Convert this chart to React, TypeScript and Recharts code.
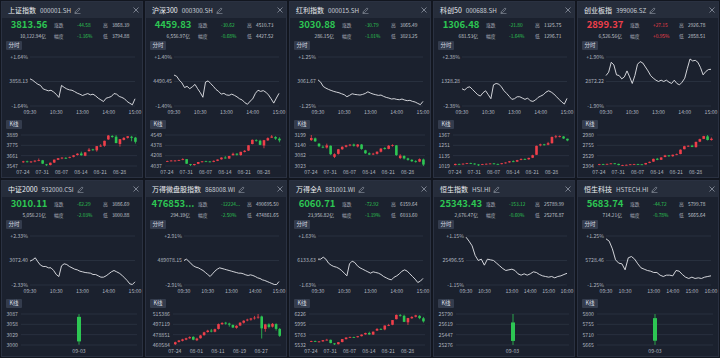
import React from 'react';
import { LineChart, Line, XAxis, YAxis, CartesianGrid, ComposedChart, Bar } from 'recharts';

const RED = '#ee3f4a';
const GREEN = '#2dc653';
const GRID = '#323a4a';
const AXIS_TEXT = '#aeb4bf';
const FONT = '"Noto Sans CJK SC", "Noto Sans", sans-serif';

// intraday minute index (A-share: 240 trading minutes, HK: 330)
const aMinutes = [0, 6, 12, 18, 24, 30, 36, 42, 48, 54, 60, 66, 72, 78, 84, 90, 96, 102, 108, 114, 120, 126, 132, 138, 144, 150, 156, 162, 168, 174, 180, 186, 192, 198, 204, 210, 216, 222, 228, 234, 240];
const hkMinutes = [0, 10, 20, 30, 40, 50, 60, 70, 80, 90, 100, 110, 120, 130, 140, 150, 160, 170, 180, 190, 200, 210, 220, 230, 240, 250, 260, 270, 280, 290, 300, 310, 320, 330];
const aTicks = [0, 60, 120, 180, 240];
const aTickLabels = ['09:30', '10:30', '13:00', '14:00', '15:00'];
const hkTicks = [0, 60, 150, 210, 270, 330];
const hkTickLabels = ['09:30', '10:30', '13:00', '14:00', '15:00', '16:00'];

const kDates = ['07-24', '07-25', '07-28', '07-29', '07-30', '07-31', '08-01', '08-04', '08-05', '08-06', '08-07', '08-08', '08-11', '08-12', '08-13', '08-14', '08-15', '08-18', '08-19', '08-20', '08-21', '08-22', '08-25', '08-26', '08-27', '08-28', '08-29', '09-01', '09-02', '09-03'];
const kTicksWeekly = ['07-24', '07-31', '08-07', '08-14', '08-21', '08-28'];
const kTicksMicro = ['07-24', '08-01', '08-11', '08-19', '08-27'];
const oneDay = ['09-03'];

// intraday values
const shLine = [3865, 3861.5, 3856, 3851, 3848, 3839, 3836.5, 3834, 3835.5, 3831, 3825, 3817, 3848, 3843, 3839, 3836.5, 3835.5, 3832, 3828, 3825.4, 3822, 3824.5, 3827, 3823.7, 3825.4, 3821, 3815, 3810.7, 3806.4, 3815, 3817, 3819.5, 3827, 3825.4, 3819.5, 3817, 3813.5, 3806.4, 3802, 3798, 3813.5];
const hs300Line = [4507, 4504, 4494, 4487, 4475, 4478, 4472, 4477, 4483, 4472, 4462, 4450, 4489, 4492, 4485, 4478, 4470, 4465, 4458, 4460, 4456, 4455, 4458, 4455, 4451, 4446, 4443, 4436, 4432, 4440, 4446, 4460, 4468, 4465, 4467, 4463, 4456, 4446, 4435, 4448, 4460];
const divLine = [3064.3, 3060.6, 3053.9, 3051.3, 3049.3, 3047.7, 3046.2, 3045.1, 3044.1, 3042.5, 3041, 3037.9, 3040, 3042.5, 3041.5, 3041, 3040.5, 3041.5, 3043, 3045.6, 3043.6, 3042, 3041, 3040, 3040.5, 3038.4, 3036.8, 3035.8, 3034.3, 3034.8, 3033.7, 3033.2, 3034.3, 3032.7, 3031.7, 3032.2, 3030.6, 3029.6, 3027.5, 3025.5, 3030.6];
const kc50Line = [1318.9, 1317.2, 1320.6, 1321.4, 1318, 1314.6, 1311.2, 1309.5, 1313.8, 1316.3, 1311.2, 1306.1, 1324, 1325.7, 1324.9, 1321.4, 1316.3, 1312.9, 1309.1, 1305.2, 1306.1, 1308.6, 1308.6, 1306.9, 1305.2, 1306.9, 1303.5, 1302.6, 1304.4, 1307.8, 1309.5, 1311.2, 1314.6, 1316.3, 1314.6, 1312.1, 1308.6, 1305.2, 1301.8, 1299.2, 1306.5];
const cybLine = [2885.5, 2892.9, 2915, 2909.1, 2887, 2885.5, 2878.1, 2882.5, 2895.8, 2882.5, 2867.8, 2885.5, 2910.6, 2916.5, 2913.5, 2904.7, 2895.8, 2885.5, 2879.6, 2875.2, 2872.2, 2875.2, 2872.2, 2875.2, 2870.7, 2867.8, 2875.2, 2867.8, 2864.8, 2870.7, 2879.6, 2901.7, 2922.4, 2918, 2919.4, 2915, 2903.2, 2887, 2894.4, 2898.8, 2899.4];
const zz2000Line = [3070.5, 3074.3, 3080.2, 3068.5, 3058.8, 3054.9, 3054.9, 3051, 3051, 3043.2, 3031.5, 3025.6, 3056.8, 3062.7, 3060.7, 3054.9, 3051, 3047.1, 3045.1, 3041.2, 3039.3, 3037.3, 3036.4, 3035.4, 3031.5, 3031.5, 3027.6, 3023.7, 3023.7, 3027.6, 3033.4, 3039.3, 3043.2, 3039.3, 3035.4, 3029.5, 3021.8, 3014, 3004.2, 3002.3, 3010.1];
const microLine = [489078, 489852, 488691, 487142, 485980, 485206, 484819, 484044, 483270, 482108, 480947, 479785, 481334, 482883, 484044, 484819, 484432, 484044, 483657, 483270, 482883, 482496, 482108, 481721, 481721, 481334, 480753, 480366, 480753, 480366, 479785, 479011, 478624, 477849, 477462, 476881, 476300, 475720, 475139, 475139, 476853];
const windALine = [6139.1, 6139.1, 6147.2, 6139.1, 6122.8, 6114.6, 6109.2, 6106.4, 6101, 6092.8, 6082, 6071, 6120, 6130.9, 6125.5, 6111.9, 6103.7, 6098.3, 6092.8, 6087.4, 6082, 6087.4, 6084.7, 6082, 6076.5, 6068.3, 6062.9, 6057.5, 6054.8, 6065.6, 6071, 6079.2, 6090.1, 6095.5, 6090.1, 6079.2, 6068.3, 6057.5, 6043.9, 6049.3, 6060.7];
const hsiLine = [25775.8, 25727.9, 25672.1, 25556.4, 25496.6, 25512.5, 25440.7, 25512.5, 25504.5, 25496.6, 25464.6, 25432.7, 25400.8, 25376.9, 25384.9, 25392.8, 25376.9, 25337, 25321, 25337, 25321, 25337, 25360.9, 25352.9, 25329, 25313, 25305, 25297.1, 25305, 25289.1, 25305, 25313, 25329, 25343.4];
const hstechLine = [5791.8, 5785, 5762.6, 5730.4, 5720.7, 5718.7, 5701.2, 5736.3, 5740.1, 5732.4, 5718.7, 5707, 5703.1, 5699.2, 5697.3, 5693.4, 5693.4, 5685.6, 5681.7, 5685.6, 5685.6, 5683.6, 5699.2, 5697.3, 5687.5, 5679.8, 5675.9, 5679.8, 5675.9, 5677.8, 5675.9, 5679.8, 5681.7, 5683.7];

// daily candles: [open, close, high, low]
const shCandles = [
  [3588, 3598, 3604, 3582], [3598, 3592, 3606, 3586], [3590, 3597, 3600, 3580], [3596, 3606, 3610, 3588], [3608, 3612, 3630, 3600],
  [3610, 3573, 3614, 3568], [3565, 3560, 3570, 3547], [3558, 3583, 3585, 3553], [3585, 3617, 3618, 3580], [3615, 3633, 3634, 3612],
  [3634, 3639, 3645, 3622], [3637, 3635, 3645, 3625], [3640, 3647, 3650, 3632], [3648, 3665, 3669, 3642], [3668, 3683, 3688, 3662],
  [3685, 3666, 3705, 3660], [3660, 3697, 3700, 3655], [3712, 3728, 3745, 3705], [3730, 3727, 3737, 3715], [3720, 3766, 3767, 3705],
  [3765, 3771, 3787, 3758], [3770, 3825, 3826, 3760], [3840, 3883, 3889, 3835], [3878, 3868, 3888, 3858], [3870, 3800, 3887, 3798],
  [3790, 3843, 3845, 3761], [3835, 3857, 3866, 3830], [3858, 3875, 3878, 3850], [3870, 3858, 3880, 3820], [3860, 3814, 3868, 3795],
];
const hs300Candles = [
  [4110, 4119, 4125, 4105], [4122, 4127, 4135, 4115], [4125, 4128, 4132, 4112], [4128, 4136, 4140, 4120], [4138, 4151, 4165, 4132],
  [4150, 4075, 4152, 4070], [4068, 4054, 4072, 4037], [4052, 4070, 4072, 4045], [4072, 4103, 4104, 4068], [4100, 4114, 4116, 4096],
  [4115, 4113, 4124, 4104], [4112, 4104, 4118, 4098], [4106, 4122, 4130, 4100], [4122, 4144, 4146, 4118], [4148, 4176, 4180, 4142],
  [4176, 4163, 4200, 4158], [4160, 4202, 4205, 4155], [4215, 4239, 4258, 4210], [4240, 4223, 4248, 4208], [4218, 4271, 4272, 4205],
  [4270, 4288, 4300, 4262], [4292, 4379, 4380, 4285], [4400, 4469, 4475, 4395], [4462, 4452, 4480, 4440], [4455, 4386, 4470, 4380],
  [4375, 4463, 4468, 4330], [4460, 4497, 4510, 4452], [4505, 4524, 4549, 4500], [4515, 4490, 4530, 4470], [4488, 4460, 4511, 4428],
];
const divCandles = [
  [3170, 3182, 3199, 3165], [3180, 3163, 3185, 3160], [3150, 3135, 3152, 3130], [3132, 3128, 3140, 3124], [3128, 3140, 3150, 3122],
  [3138, 3090, 3140, 3085], [3075, 3090, 3095, 3068], [3092, 3118, 3120, 3088], [3118, 3132, 3135, 3115], [3132, 3140, 3143, 3128],
  [3140, 3144, 3148, 3135], [3145, 3138, 3150, 3133], [3134, 3145, 3148, 3128], [3145, 3120, 3148, 3115], [3112, 3095, 3115, 3092],
  [3095, 3088, 3100, 3085], [3090, 3093, 3098, 3085], [3092, 3104, 3106, 3088], [3104, 3122, 3124, 3100], [3125, 3120, 3130, 3116],
  [3120, 3138, 3142, 3118], [3138, 3142, 3146, 3133], [3140, 3085, 3142, 3080], [3068, 3082, 3090, 3062], [3080, 3066, 3084, 3060],
  [3066, 3058, 3070, 3053], [3058, 3050, 3062, 3046], [3050, 3048, 3056, 3042], [3048, 3062, 3066, 3045], [3060, 3031, 3065, 3023],
];
const kc50Candles = [
  [1030, 1042, 1046, 1026], [1042, 1040, 1045, 1035], [1040, 1045, 1048, 1036], [1045, 1052, 1054, 1040], [1050, 1046, 1056, 1042],
  [1046, 1038, 1050, 1034], [1036, 1033, 1040, 1019], [1033, 1040, 1043, 1030], [1040, 1044, 1047, 1035], [1044, 1047, 1050, 1040],
  [1048, 1042, 1052, 1038], [1042, 1040, 1046, 1036], [1040, 1050, 1053, 1038], [1050, 1058, 1060, 1046], [1060, 1072, 1075, 1056],
  [1072, 1068, 1082, 1062], [1068, 1085, 1088, 1065], [1088, 1098, 1104, 1084], [1098, 1095, 1104, 1088], [1094, 1110, 1112, 1090],
  [1112, 1140, 1146, 1108], [1145, 1245, 1248, 1142], [1250, 1262, 1270, 1240], [1262, 1256, 1268, 1248], [1258, 1275, 1290, 1252],
  [1275, 1345, 1350, 1270], [1345, 1352, 1367, 1330], [1352, 1355, 1362, 1340], [1350, 1328, 1356, 1322], [1325, 1306, 1326, 1297],
];
const cybCandles = [
  [2330, 2345, 2350, 2322], [2345, 2340, 2352, 2332], [2338, 2350, 2355, 2334], [2350, 2360, 2365, 2345], [2362, 2350, 2368, 2342],
  [2350, 2325, 2355, 2318], [2320, 2322, 2330, 2304], [2322, 2330, 2335, 2315], [2330, 2340, 2345, 2325], [2340, 2346, 2352, 2335],
  [2346, 2340, 2352, 2332], [2340, 2336, 2346, 2328], [2338, 2370, 2372, 2334], [2372, 2395, 2400, 2365], [2400, 2460, 2465, 2395],
  [2462, 2440, 2480, 2430], [2440, 2490, 2495, 2435], [2500, 2535, 2548, 2495], [2535, 2520, 2540, 2505], [2518, 2550, 2552, 2505],
  [2550, 2560, 2575, 2540], [2565, 2660, 2665, 2560], [2670, 2735, 2745, 2668], [2735, 2745, 2755, 2720], [2748, 2720, 2768, 2715],
  [2715, 2830, 2835, 2705], [2835, 2890, 2900, 2825], [2895, 2956, 2962, 2890], [2950, 2872, 2980, 2860], [2870, 2899, 2927, 2859],
];
const zz2000Candles = [[3079, 3010.11, 3086.69, 3000.88]];
const microCandles = [
  [462000, 465500, 466500, 460584], [466000, 468500, 469500, 465000], [468000, 470500, 471500, 467000], [470000, 472500, 473500, 469000], [472500, 474500, 476000, 471500],
  [475000, 470000, 476000, 469000], [469000, 472000, 473500, 467500], [472500, 477500, 478500, 472000], [478000, 483000, 484000, 477000], [483500, 486000, 487500, 482500],
  [486000, 484500, 489000, 483000], [484000, 488500, 489500, 483000], [489000, 497500, 498500, 488000], [497500, 499500, 501000, 496000], [500000, 498500, 501500, 496500],
  [498500, 496500, 500000, 493000], [496000, 491500, 497000, 490500], [491000, 494500, 495500, 489500], [495000, 500000, 501000, 494000], [500000, 503500, 504500, 498500],
  [504000, 505500, 507000, 502500], [505500, 507500, 508500, 503500], [508000, 509000, 512000, 505500], [509500, 510500, 515386, 507000], [511000, 490000, 512500, 472000],
  [489000, 497000, 498000, 484000], [497000, 492500, 499000, 490000], [493000, 498000, 499500, 491500], [497500, 489078, 499000, 486000], [489000, 476854, 490695, 474862],
];
const windACandles = [
  [5605, 5620, 5628, 5598], [5622, 5605, 5630, 5598], [5600, 5612, 5616, 5590], [5612, 5640, 5644, 5605], [5640, 5650, 5670, 5632],
  [5648, 5575, 5652, 5570], [5568, 5548, 5575, 5532], [5550, 5595, 5598, 5545], [5598, 5665, 5666, 5592], [5662, 5700, 5702, 5658],
  [5702, 5712, 5720, 5690], [5708, 5702, 5718, 5692], [5706, 5728, 5735, 5700], [5730, 5765, 5770, 5724], [5770, 5800, 5808, 5760],
  [5802, 5768, 5830, 5760], [5765, 5830, 5834, 5758], [5855, 5890, 5912, 5848], [5892, 5888, 5905, 5868], [5880, 5968, 5970, 5862],
  [5968, 5980, 6005, 5955], [5985, 6090, 6092, 5975], [6110, 6205, 6215, 6105], [6198, 6180, 6226, 6168], [6185, 6050, 6210, 6045],
  [6040, 6135, 6140, 5980], [6130, 6160, 6178, 6118], [6165, 6195, 6208, 6150], [6185, 6134, 6200, 6110], [6130, 6061, 6160, 6034],
];
const hsiCandles = [[25650, 25343.43, 25789.99, 25276.87]];
const hstechCandles = [[5782, 5683.74, 5799.78, 5665.64]];

// header info
const names = ['上证指数', '沪深300', '红利指数', '科创50', '创业板指', '中证2000', '万得微盘股指数', '万得全A', '恒生指数', '恒生科技'];
const codes = ['000001.SH', '000300.SH', '000015.SH', '000688.SH', '399006.SZ', '932000.CSI', '868008.WI', '881001.WI', 'HSI.HI', 'HSTECH.HI'];
const prices = ['3813.56', '4459.83', '3030.88', '1306.48', '2899.37', '3010.11', '476853...', '6060.71', '25343.43', '5683.74'];
const changes = ['-44.58', '-30.62', '-30.79', '-21.80', '+27.15', '-62.29', '-12224...', '-72.92', '-153.12', '-44.72'];
const pcts = ['-1.16%', '-0.68%', '-1.01%', '-1.64%', '+0.95%', '-2.03%', '-2.50%', '-1.19%', '-0.60%', '-0.78%'];
const highs = ['3868.39', '4510.73', '3065.49', '1325.75', '2926.78', '3086.69', '490695.50', '6159.64', '25789.99', '5799.78'];
const lows = ['3794.88', '4427.52', '3023.25', '1296.71', '2858.51', '3000.88', '474861.65', '6033.60', '25276.87', '5665.64'];
const amounts = ['10,122.94亿', '6,556.97亿', '286.15亿', '681.53亿', '6,526.56亿', '5,056.21亿', '294.39亿', '23,956.82亿', '2,676.47亿', '714.21亿'];
const prevCloses = [3858.13, 4490.45, 3061.67, 1328.28, 2872.22, 3072.4, 489078.15, 6133.63, 25496.55, 5728.46];
const bounds = [1.64, 1.4, 1.25, 2.38, 1.9, 2.33, 2.91, 1.63, 1.15, 1.25];
const kYTicks = [
  [3547, 3661, 3775, 3889], [4037, 4208, 4378, 4549], [3023, 3082, 3140, 3199], [1019, 1135, 1251, 1367], [2304, 2529, 2755, 2980],
  [3000, 3029, 3058, 3087], [460584, 478851, 497119, 515386], [5532, 5763, 5995, 6226], [25276, 25447, 25619, 25790], [5665, 5710, 5755, 5800],
];

const lines = [shLine, hs300Line, divLine, kc50Line, cybLine, zz2000Line, microLine, windALine, hsiLine, hstechLine];
const candles = [shCandles, hs300Candles, divCandles, kc50Candles, cybCandles, zz2000Candles, microCandles, windACandles, hsiCandles, hstechCandles];
const isHK = [false, false, false, false, false, false, false, false, true, true];
const kTickSets = [kTicksWeekly, kTicksWeekly, kTicksWeekly, kTicksWeekly, kTicksWeekly, oneDay, kTicksMicro, kTicksWeekly, oneDay, oneDay];
const lineAxisW = [29, 29, 29, 29, 29, 29, 39, 29, 33, 29];
const kAxisW = [20, 20, 20, 20, 20, 20, 28, 20, 23, 20];

function Candle(props: any) {
  const { x, y, width, height, payload } = props;
  const { open, close, high, low } = payload;
  const top0 = Math.min(y, y + height);
  const h0 = Math.abs(height);
  const span = high - low || 1;
  const py = (v: number) => top0 + ((high - v) / span) * h0;
  const color = close >= open ? RED : GREEN;
  const bTop = py(Math.max(open, close));
  const bBot = py(Math.min(open, close));
  const cx = x + width / 2;
  return (
    <g>
      <line x1={cx} x2={cx} y1={top0} y2={top0 + h0} stroke={color} strokeWidth={0.8} />
      <rect x={x} y={bTop} width={width} height={Math.max(bBot - bTop, 0.8)} fill={color} />
    </g>
  );
}

function Tag({ text, top }: { text: string; top: number }) {
  return (
    <div style={{ position: 'absolute', left: 4, top, width: 16, height: 9, background: '#343c4d', color: '#d8dce3', fontSize: 5.5, lineHeight: '9px', textAlign: 'center', borderRadius: 1 }}>
      {text}
    </div>
  );
}

function Panel({ i }: { i: number }) {
  const hk = isHK[i];
  const mins = hk ? hkMinutes : aMinutes;
  const lineData = lines[i].map((v, k) => ({ m: mins[k], v }));
  const mid = prevCloses[i];
  const b = bounds[i];
  const lo = mid * (1 - b / 100);
  const hi = mid * (1 + b / 100);
  const xTicks = hk ? hkTicks : aTicks;
  const xLabels = hk ? hkTickLabels : aTickLabels;
  const kData = candles[i].map((c, k) => {
    const date = candles[i].length === 1 ? oneDay[0] : kDates[k];
    return { date, open: c[0], close: c[1], high: c[2], low: c[3], range: [c[3], c[2]] };
  });
  const ky = kYTicks[i];
  const priceColor = changes[i].startsWith('+') ? RED : GREEN;
  const col = i % 5;
  const row = Math.floor(i / 5);
  const small = { position: 'absolute' as const, fontSize: 4.8, whiteSpace: 'nowrap' as const };

  return (
    <div style={{ position: 'absolute', left: 1 + col * 144, top: 1 + row * 179, width: 142, height: 177, background: '#1b212e', border: '1px solid #2a3141', boxSizing: 'border-box', overflow: 'hidden' }}>
      <div style={{ position: 'absolute', left: 0, top: 0, width: 142, height: 16, background: '#262d3b' }} />
      <div style={{ position: 'absolute', left: 6, top: 3, fontSize: 7, color: '#eceef2', whiteSpace: 'nowrap', lineHeight: '10px' }}>
        {names[i]}
        <span style={{ marginLeft: 4, fontSize: 6.3, color: '#c9ced6' }}>{codes[i]}</span>
        <svg width={7} height={7} style={{ marginLeft: 3, verticalAlign: -1 }}>
          <path d="M1 6 L1.3 4.6 L5 0.9 L6.1 2 L2.4 5.7 Z M0.5 6.6 H6.5" stroke="#9aa1ad" strokeWidth={0.6} fill="none" />
        </svg>
      </div>
      <svg width={6} height={6} style={{ position: 'absolute', left: 131, top: 5 }}>
        <path d="M0.5 0.5 L5.5 5.5 M5.5 0.5 L0.5 5.5" stroke="#8f96a3" strokeWidth={0.8} />
      </svg>

      <div style={{ position: 'absolute', left: 0, width: 54, top: 16, textAlign: 'center', fontSize: 9.5, fontWeight: 700, color: priceColor, lineHeight: '13px' }}>{prices[i]}</div>
      <div style={{ ...small, right: 96, top: 30, color: '#c4c9d1', lineHeight: '7px' }}>{amounts[i]}</div>
      <div style={{ ...small, left: 52, top: 19, color: '#a7adb8', lineHeight: '7px' }}>涨跌</div>
      <div style={{ ...small, left: 52, top: 30, color: '#a7adb8', lineHeight: '7px' }}>幅度</div>
      <div style={{ ...small, left: 75, top: 19, color: priceColor, lineHeight: '7px' }}>{changes[i]}</div>
      <div style={{ ...small, left: 75, top: 30, color: priceColor, lineHeight: '7px' }}>{pcts[i]}</div>
      <div style={{ ...small, left: 101, top: 19, color: '#a7adb8', lineHeight: '7px' }}>高</div>
      <div style={{ ...small, left: 101, top: 30, color: '#a7adb8', lineHeight: '7px' }}>低</div>
      <div style={{ ...small, left: 110, top: 19, color: '#c4c9d1', lineHeight: '7px' }}>{highs[i]}</div>
      <div style={{ ...small, left: 110, top: 30, color: '#c4c9d1', lineHeight: '7px' }}>{lows[i]}</div>

      <Tag text="分时" top={39} />
      <div style={{ position: 'absolute', left: -1, top: 48 }}>
        <LineChart width={142} height={66} data={lineData} margin={{ top: 7, right: 8, bottom: 0, left: 0 }}>
          <CartesianGrid vertical={false} stroke={GRID} strokeWidth={0.6} />
          <XAxis
            dataKey="m"
            type="number"
            domain={[0, hk ? 330 : 240]}
            ticks={xTicks}
            interval={0}
            tickFormatter={(v: number) => xLabels[xTicks.indexOf(v)]}
            axisLine={false}
            tickSize={0}
            tickMargin={4}
            height={10}
            tick={{ fontSize: 5.2, fill: AXIS_TEXT, fontFamily: FONT }}
          />
          <YAxis
            type="number"
            domain={[lo, hi]}
            ticks={[lo, mid, hi]}
            interval={0}
            allowDataOverflow
            tickFormatter={(v: number) => (v > mid + 1e-6 ? `+${b.toFixed(2)}%` : v < mid - 1e-6 ? `-${b.toFixed(2)}%` : mid.toFixed(2))}
            axisLine={false}
            tickSize={0}
            tickMargin={2}
            width={lineAxisW[i]}
            tick={{ fontSize: 5.2, fill: AXIS_TEXT, fontFamily: FONT }}
          />
          <Line type="linear" dataKey="v" stroke="#e6e8ec" strokeWidth={0.9} dot={false} isAnimationActive={false} />
        </LineChart>
      </div>

      <Tag text="K线" top={118} />
      <div style={{ position: 'absolute', left: -1, top: 128 }}>
        <ComposedChart width={142} height={47} data={kData} margin={{ top: 5, right: 6, bottom: 0, left: 0 }}>
          <CartesianGrid vertical={false} stroke={GRID} strokeWidth={0.6} />
          <XAxis
            dataKey="date"
            ticks={kTickSets[i]}
            interval={0}
            axisLine={false}
            tickSize={0}
            tickMargin={4}
            height={11}
            tick={{ fontSize: 5.2, fill: AXIS_TEXT, fontFamily: FONT }}
          />
          <YAxis
            type="number"
            domain={[ky[0], ky[3]]}
            ticks={ky}
            interval={0}
            allowDataOverflow
            axisLine={false}
            tickSize={0}
            tickMargin={3}
            width={kAxisW[i]}
            tick={{ fontSize: 5.2, fill: AXIS_TEXT, fontFamily: FONT }}
          />
          <Bar dataKey="range" barSize={kData.length === 1 ? 4 : 2.6} shape={Candle} isAnimationActive={false} />
        </ComposedChart>
      </div>
    </div>
  );
}

export default function App() {
  return (
    <div style={{ position: 'absolute', left: 0, top: 0, width: 720, height: 358, background: '#12161f', overflow: 'hidden', fontFamily: FONT }}>
      {names.map((_, i) => (
        <Panel key={i} i={i} />
      ))}
    </div>
  );
}
